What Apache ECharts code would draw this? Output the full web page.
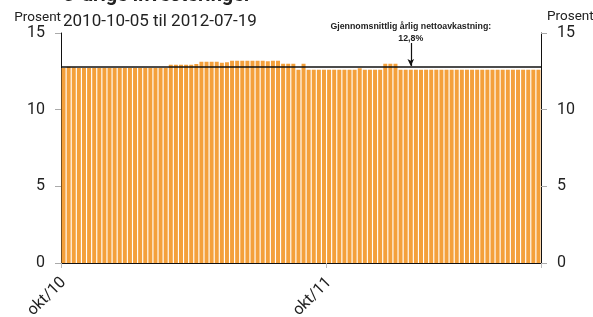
<!DOCTYPE html>
<html style="height: 100%">
<head>
<meta charset="utf-8">
<script src="https://cdn.jsdelivr.net/npm/echarts@6/dist/echarts.min.js"></script>
</head>
<body style="height: 100%; margin: 0; background: #fff;">
<div id="container" style="width: 593px; height: 317px;"></div>
<script type="text/javascript">
// weekly observations, first one 2010-10-05
var startDate = new Date(2010, 9, 5);
var returns = [
  12.71, 12.8, 12.75,
  12.71, 12.71, 12.71, 12.71, 12.71, 12.71, 12.71, 12.71, 12.71,
  12.71, 12.71, 12.71, 12.71, 12.71, 12.71, 12.71, 12.71, 12.71,
  12.93, 12.93, 12.93, 12.93, 12.93, 12.98,
  13.13, 13.13, 13.13, 13.13, 13.06, 13.1,
  13.19, 13.19, 13.19, 13.19, 13.19, 13.19, 13.19, 13.15, 13.19, 13.19,
  13.0, 13.0, 13.0, 12.6, 13.0,
  12.6, 12.6, 12.6, 12.6, 12.6, 12.6, 12.6, 12.6, 12.6, 12.6,
  12.7, 12.6, 12.6, 12.6, 12.6,
  13.0, 13.0, 13.0,
  12.6, 12.6, 12.6, 12.6, 12.6, 12.6, 12.6, 12.6, 12.6, 12.6,
  12.6, 12.6, 12.6, 12.6, 12.6, 12.6, 12.6, 12.6, 12.6, 12.6,
  12.6, 12.6, 12.6, 12.6, 12.6, 12.6, 12.6, 12.6
];
var average = 12.8;
var arrowIndex = 68;
var xTickLabels = { 0: 'okt/10', 52: 'okt/11' };

var categories = [];
for (var i = 0; i < returns.length; i++) {
  var d = new Date(startDate.getTime() + i * 7 * 86400000);
  categories.push(d.getFullYear() + '-' + (d.getMonth() + 1) + '-' + d.getDate());
}

var myChart = echarts.init(document.getElementById('container'));
var font = 'Roboto';

var yAxisBase = function (pos) {
  return {
    type: 'value',
    position: pos,
    min: 0,
    max: 15,
    interval: 5,
    name: 'Prosent',
    nameLocation: 'end',
    nameGap: 7,
    nameTextStyle: {
      fontFamily: font, fontSize: 13.5, color: '#222',
      align: pos === 'left' ? 'right' : 'left',
      padding: pos === 'left' ? [0, 0, -2, 0] : [0, 0, 2, 6]
    },
    axisLine: { show: true, lineStyle: { color: '#111', width: 1 } },
    axisTick: { show: true, length: 6, lineStyle: { color: '#aaa' } },
    axisLabel: { fontFamily: font, fontSize: 16, color: '#222', margin: 16 },
    splitLine: { show: false }
  };
};

var option = {
  animation: false,
  title: [
    {
      text: '5-årige investeringer',
      left: 58, top: -19,
      textStyle: { fontFamily: font, fontSize: 20, fontWeight: 'bold', color: '#222' }
    },
    {
      text: '2010-10-05 til 2012-07-19',
      left: 58, top: 8,
      textStyle: { fontFamily: font, fontSize: 17, fontWeight: 'normal', color: '#222' }
    }
  ],
  grid: { left: 61, right: 52, top: 33, bottom: 54, containLabel: false, outerBoundsMode: 'none' },
  xAxis: {
    type: 'category',
    data: categories,
    boundaryGap: true,
    axisLine: { lineStyle: { color: '#111', width: 1 } },
    axisTick: {
      show: true, length: 5, lineStyle: { color: '#bbb' },
      interval: function (idx) { return xTickLabels[idx] !== undefined; }
    },
    axisLabel: {
      rotate: 45, fontFamily: font, fontSize: 16, color: '#222', margin: 17,
      interval: function (idx) { return xTickLabels[idx] !== undefined; },
      formatter: function (v, idx) { return xTickLabels[idx] || ''; }
    }
  },
  yAxis: [yAxisBase('left'), yAxisBase('right')],
  series: [
    {
      type: 'bar',
      data: returns,
      barCategoryGap: '22%',
      itemStyle: { color: '#f4a03b' },
      markLine: {
        silent: true,
        symbol: ['none', 'none'],
        data: [
          {
            yAxis: average,
            lineStyle: { color: '#111', width: 1.5, type: 'solid' },
            label: { show: false }
          },
          [
            {
              coord: [categories[arrowIndex], 14.35],
              symbol: 'none',
              lineStyle: { color: '#111', width: 1.2, type: 'solid' },
              label: {
                show: true,
                position: 'start',
                distance: -2,
                formatter: 'Gjennomsnittlig årlig nettoavkastning:\n12,8%',
                fontFamily: 'Liberation Sans',
                fontWeight: 'bold',
                fontSize: 8.8,
                lineHeight: 12,
                color: '#222'
              }
            },
            {
              coord: [categories[arrowIndex], average + 0.05],
              symbol: 'arrow',
              symbolSize: [5, 7]
            }
          ]
        ]
      }
    }
  ]
};

myChart.setOption(option);
</script>
</body>
</html>
